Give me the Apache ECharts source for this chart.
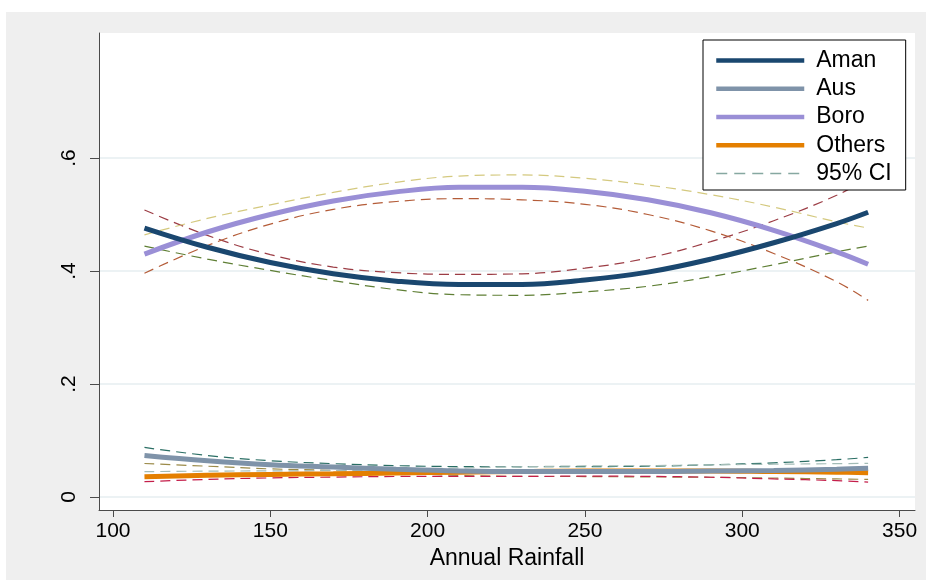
<!DOCTYPE html>
<html>
<head>
<meta charset="utf-8">
<script src="https://cdn.jsdelivr.net/npm/echarts@6/dist/echarts.min.js"></script>
<style>
  html, body { margin: 0; padding: 0; background: #ffffff; }
  #chart { width: 926px; height: 583px; }
</style>
</head>
<body>
<div id="chart"></div>
<script>
// Fitted quadratic shares of rice area by season against annual rainfall, with 95% CI bands
const rainfall = [110, 130, 150, 170, 190, 210, 230, 250, 270, 290, 310, 330, 340];

const aman      = [0.476, 0.442, 0.415, 0.395, 0.382, 0.376, 0.376, 0.384, 0.398, 0.421, 0.450, 0.484, 0.504];
const amanHi    = [0.508, 0.463, 0.429, 0.407, 0.397, 0.394, 0.395, 0.405, 0.423, 0.452, 0.489, 0.534, 0.564];
const amanLo    = [0.444, 0.421, 0.401, 0.383, 0.367, 0.358, 0.357, 0.363, 0.373, 0.390, 0.411, 0.434, 0.444];

const aus       = [0.0735, 0.064, 0.057, 0.053, 0.049, 0.046, 0.045, 0.045, 0.045, 0.046, 0.047, 0.049, 0.0507];
const ausHi     = [0.0877, 0.0735, 0.0642, 0.059, 0.0555, 0.0538, 0.0535, 0.0538, 0.0545, 0.057, 0.0605, 0.066, 0.0702];
const ausLo     = [0.0593, 0.0545, 0.0498, 0.047, 0.0425, 0.0382, 0.0365, 0.0362, 0.0355, 0.035, 0.0335, 0.032, 0.0312];

const boro      = [0.430, 0.469, 0.500, 0.524, 0.540, 0.548, 0.548, 0.541, 0.526, 0.503, 0.472, 0.434, 0.412];
const boroHi    = [0.464, 0.493, 0.517, 0.539, 0.557, 0.568, 0.570, 0.564, 0.552, 0.535, 0.513, 0.487, 0.476];
const boroLo    = [0.396, 0.445, 0.483, 0.509, 0.523, 0.528, 0.526, 0.518, 0.500, 0.471, 0.431, 0.381, 0.348];

const others    = [0.036, 0.0385, 0.040, 0.041, 0.0425, 0.044, 0.045, 0.046, 0.046, 0.046, 0.045, 0.044, 0.043];
const othersHi  = [0.0449, 0.0458, 0.0462, 0.0468, 0.0487, 0.0515, 0.0535, 0.055, 0.0555, 0.057, 0.058, 0.059, 0.0596];
const othersLo  = [0.0271, 0.0312, 0.0338, 0.0352, 0.0363, 0.0365, 0.0365, 0.037, 0.0365, 0.035, 0.032, 0.029, 0.0265];

const xTicks = [100, 150, 200, 250, 300, 350];
const yTicks = [0, 0.2, 0.4, 0.6];
const yTickLabels = ['0', '.2', '.4', '.6'];

const FONT = 'Liberation Sans, Arial, sans-serif';

const COLORS = {
  Aman: '#1a476f', Aus: '#7f93a9', Boro: '#9a8fd6', Others: '#e47f00', ci: '#86a8a1'
};

function pairs(values) {
  return rainfall.map((x, i) => [x, values[i]]);
}

function fitLine(name, values, z) {
  return {
    name: name, type: 'line', data: pairs(values), symbol: 'none',
    smooth: 0.4, z: z, silent: true,
    lineStyle: { color: COLORS[name], width: 5, cap: 'butt' }
  };
}

function ciLine(values, color) {
  return {
    name: '95% CI', type: 'line', data: pairs(values), symbol: 'none',
    smooth: 0.4, z: 2, silent: true,
    lineStyle: { color: color, width: 1.2, type: [10, 6] }
  };
}

function legendItem(name) {
  return {
    name: name,
    itemStyle: { opacity: 0 },
    lineStyle: { color: COLORS[name], width: 4.5, type: 'solid', cap: 'butt' }
  };
}

const chart = echarts.init(document.getElementById('chart'), null, { renderer: 'canvas' });

chart.setOption({
  animation: false,
  backgroundColor: '#ffffff',
  graphic: [{
    type: 'rect', z: -10, silent: true,
    shape: { x: 6, y: 12, width: 920, height: 568 },
    style: { fill: '#efefef' }
  }],
  grid: {
    left: 99, top: 33, right: 11, bottom: 73,
    show: true, backgroundColor: '#ffffff', borderWidth: 0
  },
  xAxis: {
    type: 'value', min: 95.55, max: 354.9,
    name: 'Annual Rainfall', nameLocation: 'middle', nameGap: 32,
    nameTextStyle: { fontSize: 23, color: '#000', fontFamily: FONT },
    axisLine: { show: true, onZero: false, lineStyle: { color: '#4a4a4a', width: 1 } },
    axisTick: { show: true, length: 7, customValues: xTicks, lineStyle: { color: '#4a4a4a' } },
    axisLabel: { customValues: xTicks, fontSize: 21, color: '#000', fontFamily: FONT, margin: 11 },
    splitLine: { show: false }
  },
  yAxis: {
    type: 'value', min: -0.023, max: 0.8212,
    axisLine: { show: true, onZero: false, lineStyle: { color: '#4a4a4a', width: 1 } },
    axisTick: { show: true, length: 9, customValues: yTicks, lineStyle: { color: '#4a4a4a' } },
    axisLabel: {
      customValues: yTicks, rotate: 90, fontSize: 21, color: '#000', fontFamily: FONT, margin: 19,
      formatter: function (v) {
        const i = yTicks.findIndex(t => Math.abs(t - v) < 1e-9);
        return i >= 0 ? yTickLabels[i] : '';
      }
    },
    splitLine: { show: true, lineStyle: { color: '#e6eef0', width: 1.5 } }
  },
  legend: {
    orient: 'vertical', left: 703, top: 40,
    padding: [9, 14, 5, 11],
    itemWidth: 88, itemHeight: 14, itemGap: 5.25,
    backgroundColor: '#ffffff', borderColor: '#000', borderWidth: 1, borderRadius: 0,
    textStyle: { fontSize: 23, lineHeight: 22, color: '#000', fontFamily: FONT, padding: [0, 0, 0, 7] },
    data: [
      legendItem('Aman'),
      legendItem('Aus'),
      legendItem('Boro'),
      legendItem('Others'),
      {
        name: '95% CI',
        itemStyle: { opacity: 0 },
        lineStyle: { color: COLORS.ci, width: 1.4, type: [11, 7] }
      }
    ]
  },
  series: [
    ciLine(amanHi, '#9c3d45'),
    ciLine(amanLo, '#5f7f35'),
    ciLine(boroHi, '#d4c97f'),
    ciLine(boroLo, '#b45c38'),
    ciLine(ausHi, '#2a6e64'),
    ciLine(ausLo, '#9b8a48'),
    ciLine(othersHi, '#a3bcb6'),
    ciLine(othersLo, '#c41e4a'),
    fitLine('Boro', boro, 4),
    fitLine('Aman', aman, 5),
    fitLine('Others', others, 4),
    fitLine('Aus', aus, 5)
  ]
});
</script>
</body>
</html>
